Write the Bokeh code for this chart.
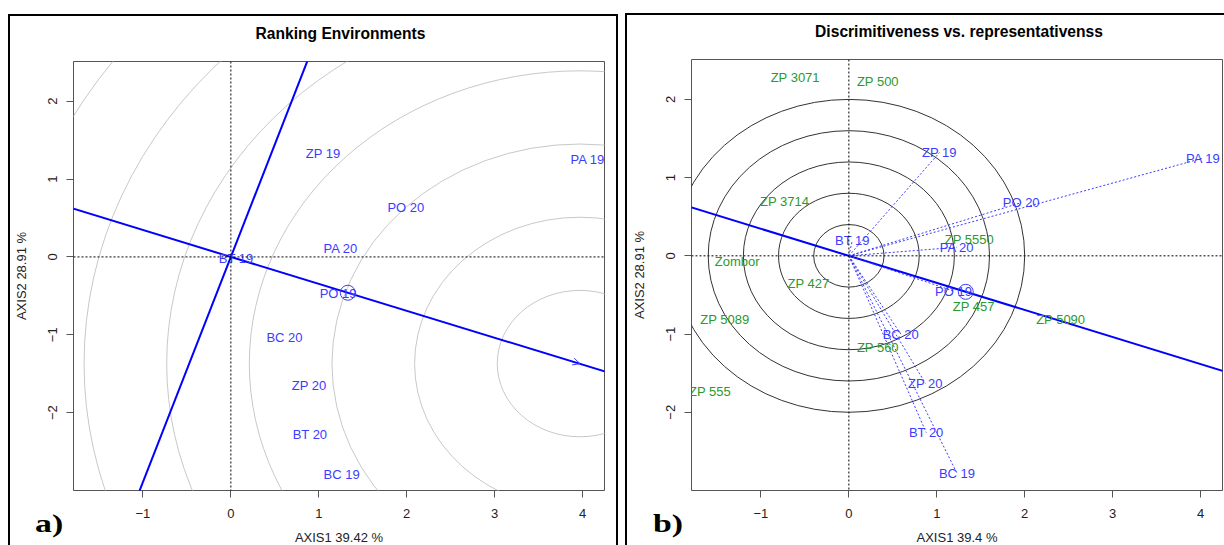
from bokeh.plotting import figure
from bokeh.layouts import row, column
from bokeh.models import FixedTicker, Span, Arrow, OpenHead, Range1d, Div, Label
from bokeh.embed import file_html
from bokeh.resources import INLINE
from bokeh.core.properties import value
import numpy as np

# ---------------- data ----------------
env_names = ["ZP 19", "PA 19", "PO 20", "PA 20", "BT 19", "PO 19", "BC 20", "ZP 20", "BT 20", "BC 19"]
rank_env_x = [1.05, 4.06, 1.99, 1.25, 0.06, 1.22, 0.61, 0.89, 0.90, 1.26]
rank_env_y = [1.33, 1.25, 0.64, 0.11, -0.02, -0.47, -1.03, -1.65, -2.28, -2.79]
disc_env_x = [1.03, 4.03, 1.96, 1.23, 0.04, 1.19, 0.59, 0.87, 0.88, 1.23]
disc_env_y = [1.32, 1.25, 0.68, 0.11, 0.20, -0.45, -1.00, -1.63, -2.26, -2.78]

gen_names = ["ZP 3071", "ZP 500", "ZP 3714", "ZP 5550", "Zombor", "ZP 427",
             "ZP 457", "ZP 5090", "ZP 5089", "ZP 560", "ZP 555"]
gen_x = [-0.61, 0.33, -0.73, 1.37, -1.27, -0.46, 1.42, 2.41, -1.41, 0.33, -1.58]
gen_y = [2.28, 2.23, 0.69, 0.21, -0.07, -0.35, -0.65, -0.81, -0.82, -1.17, -1.74]

avg_env_x = [1.33]
avg_env_y = [-0.46]
ideal_env_x = [3.97]
ideal_env_y = [-1.37]
rank_ring_radii = [0.94, 1.88, 2.82, 3.76, 4.70, 5.64, 6.58]
disc_ring_radii = [0.4, 0.8, 1.2, 1.6, 2.0]

x_ticks = [-1, 0, 1, 2, 3, 4]
y_ticks = [-2, -1, 0, 1, 2]
x_lim = (-1.79, 4.25)
y_lim = (-3.0, 2.51)

titles = ["Ranking Environments", "Discrimitiveness vs. representativenss"]
x_labels = ["AXIS1 39.42 %", "AXIS1 39.4 %"]
y_labels = ["AXIS2 28.91 %", "AXIS2 28.91 %"]
panel_tags = ["a)", "b)"]

BLUE = "#0000ff"
ENV_COL = "#3c3cff"
GEN_COL = "#2a9a2a"
FONT = "Liberation Sans"


def make_fig(title, xlab, ylab, w, h, mbl, mbr, mbt, mbb, title_xy):
    p = figure(width=w, height=h, x_range=Range1d(*x_lim), y_range=Range1d(*y_lim),
               output_backend="svg", toolbar_location=None,
               min_border_left=mbl, min_border_right=mbr,
               min_border_top=mbt, min_border_bottom=mbb)
    p.xgrid.visible = False
    p.ygrid.visible = False
    p.outline_line_color = "#555555"
    p.outline_line_width = 1
    p.background_fill_color = "white"
    p.border_fill_color = "white"
    p.add_layout(Label(x=title_xy[0], y=title_xy[1], x_units="canvas", y_units="canvas",
                       text=title, text_font=FONT, text_font_size="15.6px",
                       text_font_style="bold", text_align="center",
                       text_baseline="middle", text_color="black"), "above")
    p.xaxis.ticker = FixedTicker(ticks=x_ticks)
    p.yaxis.ticker = FixedTicker(ticks=y_ticks)
    for ax in (p.xaxis[0], p.yaxis[0]):
        ax.axis_line_color = None
        ax.major_tick_line_color = "#555555"
        ax.major_tick_out = 7
        ax.major_tick_in = 0
        ax.minor_tick_line_color = None
        ax.major_label_text_font = FONT
        ax.major_label_text_font_size = "13px"
        ax.major_label_text_color = "#222222"
        ax.axis_label_text_font = FONT
        ax.axis_label_text_font_size = "13px"
        ax.axis_label_text_font_style = "normal"
        ax.axis_label_text_color = "#222222"
    p.xaxis.axis_label = xlab
    p.yaxis.axis_label = ylab
    p.xaxis.major_label_standoff = 11
    p.xaxis.axis_label_standoff = 9
    p.yaxis.major_label_orientation = "vertical"
    p.yaxis.major_label_standoff = 9
    p.yaxis.axis_label_standoff = 17
    p.add_layout(Span(location=0, dimension="width", line_color="black",
                      line_width=1, line_dash="2 2"))
    p.add_layout(Span(location=0, dimension="height", line_color="black",
                      line_width=1, line_dash="2 2"))
    return p


def tag_div(text, left):
    return Div(text=text, width=40, height=30, margin=(-36, 0, 0, left),
               styles={"font-family": "Liberation Serif", "font-weight": "bold",
                       "font-size": "26px", "line-height": "30px", "color": "black",
                       "position": "relative", "z-index": "10",
                       "transform": "scaleX(1.3)", "transform-origin": "left center"})


# ---------------- panel a ----------------
p1 = make_fig(titles[0], x_labels[0], y_labels[0], 610, 531, 63, 16, 45, 56, (328, 15))
n1 = len(rank_ring_radii)
p1.ellipse(x=ideal_env_x * n1, y=ideal_env_y * n1,
           width=[2 * r for r in rank_ring_radii], height=[2 * r for r in rank_ring_radii],
           fill_color=None, line_color="#c8c8c8", line_width=1)
ax_, ay_ = avg_env_x[0], avg_env_y[0]
t = np.array([-8.0, 8.0])
p1.line(x=t * ax_, y=t * ay_, line_color=BLUE, line_width=2)
p1.line(x=t * (-ay_), y=t * ax_, line_color=BLUE, line_width=2)
p1.add_layout(Arrow(end=OpenHead(size=7, line_color=ENV_COL, line_width=1),
                    x_start=0, y_start=0, x_end=ideal_env_x[0], y_end=ideal_env_y[0],
                    line_alpha=0))
p1.scatter(x=avg_env_x, y=avg_env_y, marker="circle", size=15, fill_color=None,
           line_color=ENV_COL, line_width=1)
p1.text(x=rank_env_x, y=rank_env_y, text=env_names, text_align="center",
        text_baseline="middle", text_font=value(FONT), text_font_size="13px",
        text_color=ENV_COL)
p1.styles = {"border": "2px solid black", "border-bottom": "none"}
p1.margin = (14, 0, 0, 8)

# ---------------- panel b ----------------
p2 = make_fig(titles[1], x_labels[1], y_labels[1], 599, 532, 64, 4, 44, 57, (329.5, 14))
n2 = len(disc_ring_radii)
p2.ellipse(x=[0] * n2, y=[0] * n2,
           width=[2 * r for r in disc_ring_radii], height=[2 * r for r in disc_ring_radii],
           fill_color=None, line_color="#333333", line_width=1)
p2.line(x=t * ax_, y=t * ay_, line_color=BLUE, line_width=2)
p2.segment(x0=[0] * len(disc_env_x), y0=[0] * len(disc_env_y), x1=disc_env_x, y1=disc_env_y,
           line_color=ENV_COL, line_width=1, line_dash="2 2")
p2.scatter(x=avg_env_x, y=avg_env_y, marker="circle", size=15, fill_color=None,
           line_color=ENV_COL, line_width=1)
p2.text(x=gen_x, y=gen_y, text=gen_names, text_align="center",
        text_baseline="middle", text_font=value(FONT), text_font_size="13px",
        text_color=GEN_COL)
p2.text(x=disc_env_x, y=disc_env_y, text=env_names, text_align="center",
        text_baseline="middle", text_font=value(FONT), text_font_size="13px",
        text_color=ENV_COL)
p2.styles = {"border": "2px solid black", "border-bottom": "none", "border-right": "none"}
p2.margin = (13, 0, 0, 7)

layout = row(column(p1, tag_div(panel_tags[0], 35)),
             column(p2, tag_div(panel_tags[1], 35)))
open("out.html", "w").write(file_html(layout, INLINE))
